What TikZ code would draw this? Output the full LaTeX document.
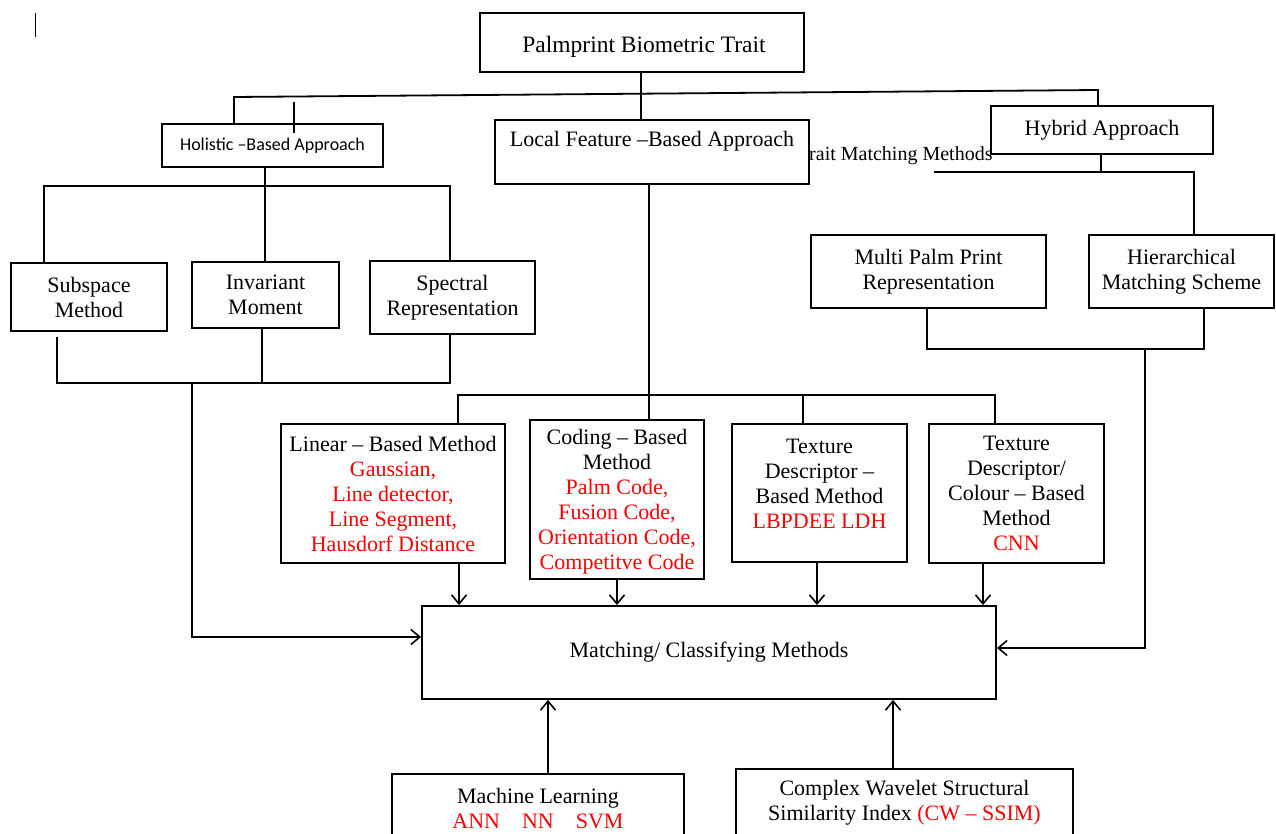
\documentclass[tikz,border=0pt]{standalone}
\usepackage{fontspec}
\setmainfont{Liberation Serif}
\newfontfamily\calfont{Carlito}
\usetikzlibrary{arrows.meta}
\tikzset{
  ln/.style={line width=1.8pt},
  box/.style={draw, line width=1.8pt, fill=white, inner sep=0pt, align=center, font=\fontsize{22}{25}\selectfont},
  txt/.style={inner sep=0pt, align=center, font=\fontsize{22}{25}\selectfont},
  arr/.style={ln, -{Straight Barb[length=9pt,width=15pt,line width=1.6pt]}},
  red/.style={text=red}
}
\begin{document}
\begin{tikzpicture}[x=1pt,y=-1pt]
\useasboundingbox (0,0) rectangle (1276,834);
% stray cursor mark
\coordinate (cur1) at (35,13); \coordinate (cur2) at (35,37);
\draw[line width=1pt] (cur1) -- (cur2);

% boxes
\node[box, minimum width=324pt, minimum height=59pt] (pal) at (642,42.5) {};
\node[txt, font=\fontsize{23.5}{26}\selectfont] (palt) at (644,47) {Palmprint Biometric Trait};
\node[box, minimum width=221pt, minimum height=43pt, font=\calfont\fontsize{18}{20}\selectfont] (hol) at (272.5,145.5) {Holistic –Based Approach};
\node[txt, anchor=west, font=\fontsize{20}{24}\selectfont] (trt) at (809,156) {rait Matching Methods};
\node[box, minimum width=314pt, minimum height=64pt] (loc) at (652,152) {};
\node[txt] (loct) at (652,141) {Local Feature –Based Approach};
\node[box, minimum width=222pt, minimum height=48pt] (hyb) at (1102,130) {Hybrid Approach};

\node[box, minimum width=156pt, minimum height=68pt] (sub) at (89,297) {Subspace\\Method};
\node[box, minimum width=147pt, minimum height=66pt] (inv) at (265.5,295) {Invariant\\Moment};
\node[box, minimum width=165pt, minimum height=73pt] (spe) at (452.5,297.5) {Spectral\\Representation};

\node[box, minimum width=235pt, minimum height=73pt] (mul) at (928.5,271.5) {Multi Palm Print\\Representation};
\node[box, minimum width=185pt, minimum height=73pt] (hie) at (1181.5,271.5) {Hierarchical\\Matching Scheme};

\node[box, minimum width=224pt, minimum height=139pt] (lin) at (393,493.5) {Linear – Based Method\\\textcolor{red}{Gaussian,}\\\textcolor{red}{Line detector,}\\\textcolor{red}{Line Segment,}\\\textcolor{red}{Hausdorf Distance}};
\node[box, minimum width=174pt, minimum height=159pt] (cod) at (617,499.5) {};
\node[txt] (codt) at (617,502) {Coding – Based\\Method\\\textcolor{red}{Palm Code,}\\\textcolor{red}{Fusion Code,}\\\textcolor{red}{Orientation Code,}\\\textcolor{red}{Competitve Code}};
\node[box, minimum width=175pt, minimum height=138pt] (tex) at (819.5,493) {};
\node[txt] (text) at (819.5,484) {Texture\\Descriptor –\\Based Method\\\textcolor{red}{LBPDEE LDH}};
\node[box, minimum width=175pt, minimum height=139pt] (tcb) at (1016.5,493.5) {Texture\\Descriptor/\\Colour – Based\\Method\\\textcolor{red}{CNN}};

\node[box, minimum width=574pt, minimum height=93pt] (mat) at (709,652.5) {Matching/ Classifying Methods};

\node[box, minimum width=292pt, minimum height=90pt, anchor=north] (ml) at (538,773) {};
\node[txt] (mlt) at (538,809) {Machine Learning\\\textcolor{red}{ANN\quad NN\quad SVM}};
\node[box, minimum width=337pt, minimum height=95pt, anchor=north] (cw) at (904.5,768) {};
\node[txt] (cwt) at (904.5,803) {Complex Wavelet Structural\\Similarity Index \textcolor{red}{(CW – SSIM)}};

% junction coordinates
\coordinate (tL) at (234,97);
\coordinate (tR) at (1098,90);
\coordinate (tP) at (641,93);
\coordinate (s1) at (294,102); \coordinate (s2) at (294,133);
\coordinate (hA) at (44,186); \coordinate (hB) at (265,186); \coordinate (hC) at (450,186);
\coordinate (bA) at (57,383); \coordinate (bA0) at (57,337); \coordinate (bB) at (262,383); \coordinate (bC) at (450,383);
\coordinate (bD) at (192,383); \coordinate (bE) at (192,637);
\coordinate (lx) at (649,395); \coordinate (lA) at (458,395); \coordinate (lB) at (803,395); \coordinate (lC) at (995,395);
\coordinate (yA) at (934,172); \coordinate (yB) at (1101,172); \coordinate (yC) at (1194,172);
\coordinate (mA) at (927,349); \coordinate (mB) at (1204,349); \coordinate (mC) at (1145,349); \coordinate (mD) at (1145,648);
\coordinate (aL) at (459,0); \coordinate (aC) at (617,0); \coordinate (aT) at (817,0); \coordinate (aU) at (983,0);
\coordinate (uM) at (548,0); \coordinate (uC) at (893,0);

% top connectors
\draw[ln] (pal.south -| tP) -- (loc.north -| tP);
\draw[ln] (hol.north -| tL) -- (tL) -- (tR) -- (hyb.north -| tR);
\draw[ln] (s1) -- (s2);

% holistic tree
\draw[ln] (hol.south -| hB) -- (hB);
\draw[ln] (sub.north -| hA) -- (hA) -- (hC) -- (spe.north -| hC);
\draw[ln] (hB) -- (inv.north -| hB);
\draw[ln] (bA0) -- (bA) -- (bC) -- (spe.south -| bC);
\draw[ln] (inv.south -| bB) -- (bB);
\draw[arr] (bD) -- (bE) -- (mat.west |- bE);

% local tree
\draw[ln] (loc.south -| lx) -- (cod.north -| lx);
\draw[ln] (lin.north -| lA) -- (lA) -- (lC) -- (tcb.north -| lC);
\draw[ln] (lB) -- (tex.north -| lB);
\draw[arr] (lin.south -| aL) -- (mat.north -| aL);
\draw[arr] (cod.south -| aC) -- (mat.north -| aC);
\draw[arr] (tex.south -| aT) -- (mat.north -| aT);
\draw[arr] (tcb.south -| aU) -- (mat.north -| aU);

% hybrid tree
\draw[ln] (hyb.south -| yB) -- (yB);
\draw[ln] (yA) -- (yC) -- (hie.north -| yC);
\draw[ln] (mul.south -| mA) -- (mA) -- (mB) -- (hie.south -| mB);
\draw[arr] (mC) -- (mD) -- (mat.east |- mD);

% bottom
\draw[arr] (ml.north -| uM) -- (mat.south -| uM);
\draw[arr] (cw.north -| uC) -- (mat.south -| uC);
\end{tikzpicture}
\end{document}
